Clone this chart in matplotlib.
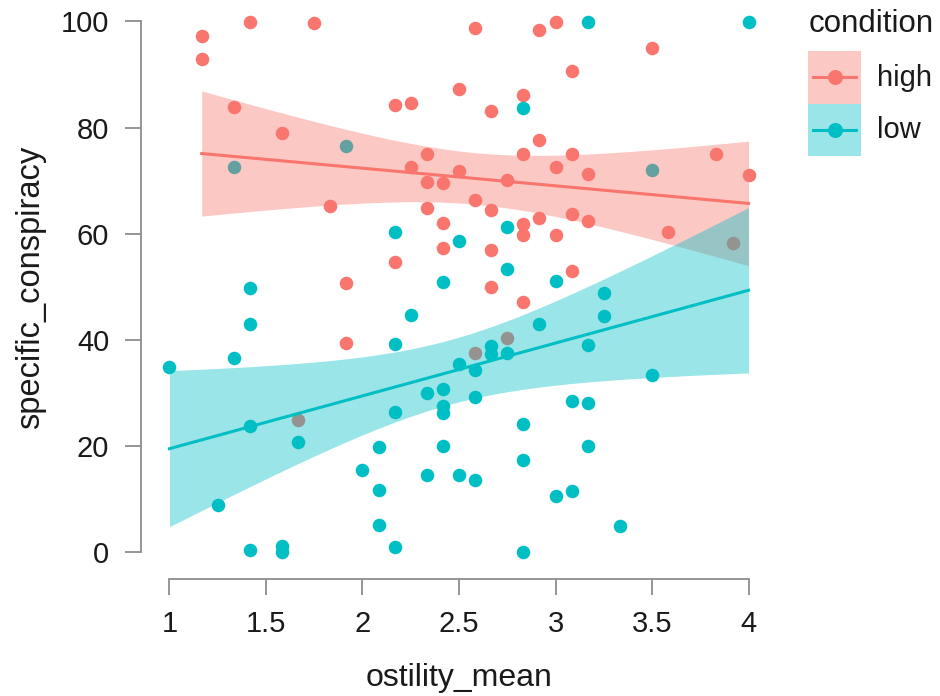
import numpy as np
import matplotlib
matplotlib.use("Agg")
import matplotlib.pyplot as plt
from matplotlib.patches import Rectangle
from matplotlib.lines import Line2D
from matplotlib.transforms import Affine2D

plt.rcParams['font.family'] = ['Liberation Sans', 'DejaVu Sans']

# ---- data ----
high_x = [1.167, 1.167, 1.417, 1.75, 1.333, 1.583, 2.167, 2.25, 2.5, 2.333,
          2.25, 2.5, 2.333, 2.417, 1.833, 2.333, 2.417, 2.417, 2.167, 1.917,
          1.917, 1.667, 2.583, 2.917, 3.0, 3.5, 3.083, 2.833, 2.667, 2.917,
          2.833, 3.083, 3.833, 3.0, 3.167, 4.0, 2.75, 2.583, 2.667, 2.917,
          3.083, 3.167, 2.833, 2.833, 3.0, 3.583, 2.667, 3.083, 2.667, 2.833,
          3.917, 2.583, 2.75]
high_y = [97.2, 92.9, 99.9, 99.7, 83.8, 79.0, 84.3, 84.7, 87.3, 75.0,
          72.5, 71.8, 69.7, 69.5, 65.3, 64.8, 62.0, 57.3, 54.7, 50.8,
          39.4, 25.0, 98.7, 98.4, 99.9, 95.0, 90.7, 86.2, 83.2, 77.7,
          75.0, 75.0, 75.0, 72.5, 71.2, 71.0, 70.2, 66.4, 64.5, 63.0,
          63.8, 62.5, 61.8, 59.8, 59.8, 60.3, 56.9, 52.9, 49.9, 47.2,
          58.2, 37.6, 40.4]

low_x = [1.333, 1.917, 2.167, 2.5, 2.417, 1.417, 3.167, 4.0, 2.833, 2.75,
         2.75, 3.0, 3.25, 3.25, 1.417, 2.25, 1.333, 1.0, 2.167, 2.5,
         1.417, 1.667, 2.333, 2.417, 2.417, 2.417, 2.167, 2.083, 2.417, 2.0,
         2.333, 2.5, 2.083, 1.25, 2.083, 2.167, 1.417, 1.583, 1.583, 2.917,
         3.167, 2.667, 2.667, 2.75, 2.583, 3.5, 2.583, 3.083, 3.167, 2.833,
         2.833, 3.167, 2.583, 3.0, 3.083, 3.333, 2.833, 3.5]
low_y = [72.5, 76.5, 60.3, 58.7, 50.9, 49.8, 99.9, 99.9, 83.6, 61.2,
         53.4, 51.2, 48.9, 44.5, 43.1, 44.7, 36.7, 35.0, 39.2, 35.5,
         23.8, 20.8, 30.1, 30.8, 27.5, 26.2, 26.5, 19.8, 20.0, 15.5,
         14.5, 14.5, 11.7, 9.0, 5.2, 1.1, 0.4, 1.3, 0.0, 43.1,
         39.0, 38.9, 37.4, 37.5, 34.3, 33.5, 29.2, 28.5, 28.2, 24.2,
         17.5, 20.0, 13.7, 10.7, 11.6, 4.9, 0.0, 72.0]

groups = ["high", "low"]
colors = {"high": "#F8766D", "low": "#00BFC4"}
x_ticks = [1, 1.5, 2, 2.5, 3, 3.5, 4]
x_ticklabels = ["1", "1.5", "2", "2.5", "3", "3.5", "4"]
y_ticks = [0, 20, 40, 60, 80, 100]
legend_title = "condition"


def t_quantile(df, z=1.959964):
    g1 = (z**3 + z) / 4
    g2 = (5 * z**5 + 16 * z**3 + 3 * z) / 96
    g3 = (3 * z**7 + 19 * z**5 + 17 * z**3 - 15 * z) / 384
    return z + g1 / df + g2 / df**2 + g3 / df**3


def lm_ci(x, y, n_out=80):
    x = np.asarray(x, float)
    y = np.asarray(y, float)
    n = len(x)
    xb = x.mean()
    sxx = ((x - xb) ** 2).sum()
    b1 = ((x - xb) * (y - y.mean())).sum() / sxx
    b0 = y.mean() - b1 * xb
    res = y - (b0 + b1 * x)
    s2 = (res ** 2).sum() / (n - 2)
    xs = np.linspace(x.min(), x.max(), n_out)
    fit = b0 + b1 * xs
    se = np.sqrt(s2 * (1.0 / n + (xs - xb) ** 2 / sxx))
    t = t_quantile(n - 2)
    return xs, fit, fit - t * se, fit + t * se


data = {"high": (high_x, high_y), "low": (low_x, low_y)}

W, H = 940, 696
fig = plt.figure(figsize=(W / 100, H / 100), dpi=100)
left_px, right_px = 140.5, 777.5
bottom_px, top_px = 579.0, -5.2
ax = fig.add_axes([left_px / W, 1 - bottom_px / H,
                   (right_px - left_px) / W, (bottom_px - top_px) / H])

for g in groups:
    x, y = data[g]
    ax.scatter(x, y, s=95, color=colors[g], linewidths=0, zorder=1)

fits = {g: lm_ci(*data[g]) for g in groups}
for g in groups:
    xs, fit, lo, hi = fits[g]
    ax.fill_between(xs, lo, hi, color=colors[g], alpha=0.4, linewidth=0, zorder=2)
for g in groups:
    xs, fit, lo, hi = fits[g]
    ax.plot(xs, fit, color=colors[g], lw=2.2, zorder=3)

ax.set_xlim(0.85, 4.15)
ax.set_ylim(-5, 105)
for s in ["top", "right"]:
    ax.spines[s].set_visible(False)
for s in ["left", "bottom"]:
    ax.spines[s].set_color("#8c8c8c")
    ax.spines[s].set_linewidth(1.3)
ax.spines["left"].set_bounds(0, 100)
ax.spines["bottom"].set_bounds(1, 4)
ax.set_xticks(x_ticks)
ax.set_xticklabels(x_ticklabels)
ax.set_yticks(y_ticks)
ax.tick_params(axis="both", length=11.5, width=1.3, color="#8c8c8c",
               labelsize=21, labelcolor="#1a1a1a", pad=11)
ax.set_xlabel("ostility_mean", fontsize=23, color="#1a1a1a", labelpad=18)
ax.set_ylabel("specific_conspiracy", fontsize=23.5, color="#1a1a1a", labelpad=11)
ax.patch.set_visible(False)

# ---- legend (drawn in figure pixel coordinates, origin top-left) ----
px = Affine2D().scale(1 / W, -1 / H).translate(0, 1) + fig.transFigure
fig.text(809, 32, legend_title, transform=px, fontsize=22.5, color="#1a1a1a",
         ha="left", va="baseline")
key_top, key_h, key_x, key_w = 51, 52.5, 808, 53
for i, g in enumerate(groups):
    y0 = key_top + i * key_h
    yc = y0 + key_h / 2
    fig.add_artist(Rectangle((key_x, y0), key_w, key_h, transform=px,
                             facecolor=colors[g], alpha=0.4, linewidth=0))
    fig.add_artist(Line2D([key_x + 5, key_x + key_w - 5], [yc, yc], transform=px,
                          color=colors[g], lw=2.2))
    fig.add_artist(Line2D([key_x + key_w / 2], [yc], transform=px,
                          color=colors[g], marker="o", markersize=10.8,
                          markeredgewidth=0, linestyle="none"))
    fig.text(877, yc + 8.5, g, transform=px, fontsize=21, color="#1a1a1a",
             ha="left", va="baseline")

fig.savefig("out.png", dpi=100)
